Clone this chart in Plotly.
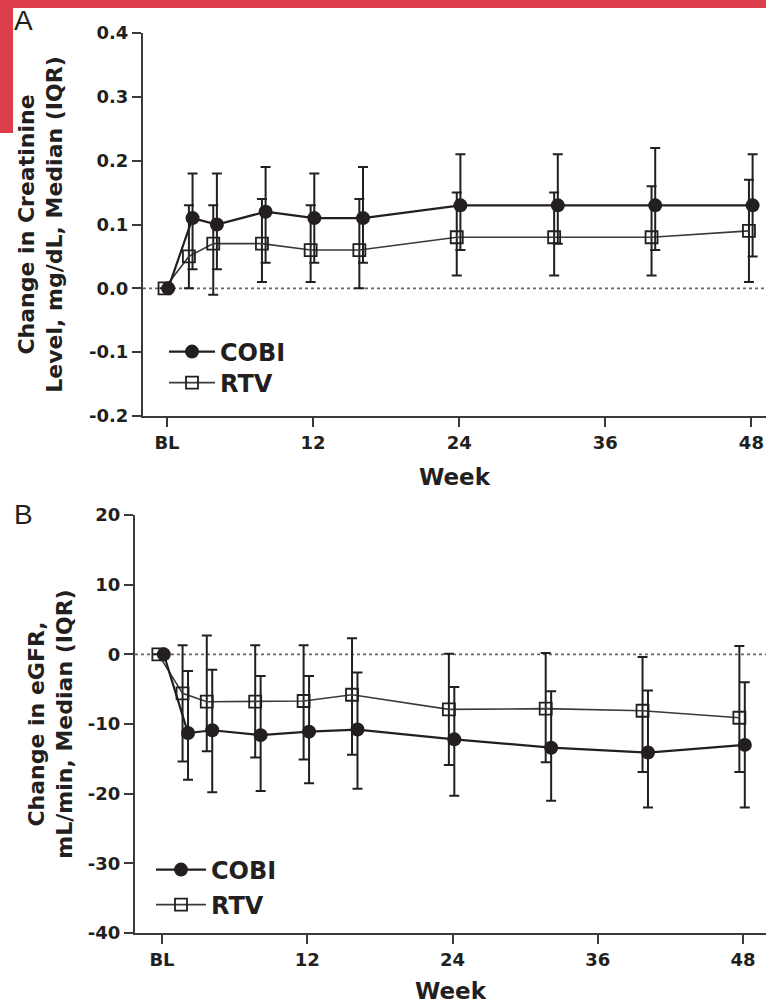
import plotly.graph_objects as go

# ---------------- data ----------------
weeks = [0, 2, 4, 8, 12, 16, 24, 32, 40, 48]
x_tickvals = [0, 12, 24, 36, 48]
x_ticktext = ["BL", "12", "24", "36", "48"]

# Panel A: change in creatinine (mg/dL), median and IQR
cobi_cr_med = [0, 0.11, 0.10, 0.12, 0.11, 0.11, 0.13, 0.13, 0.13, 0.13]
cobi_cr_q1 = [0, 0.03, 0.03, 0.04, 0.04, 0.04, 0.06, 0.07, 0.06, 0.05]
cobi_cr_q3 = [0, 0.18, 0.18, 0.19, 0.18, 0.19, 0.21, 0.21, 0.22, 0.21]
rtv_cr_med = [0, 0.05, 0.07, 0.07, 0.06, 0.06, 0.08, 0.08, 0.08, 0.09]
rtv_cr_q1 = [0, 0.00, -0.01, 0.01, 0.01, 0.00, 0.02, 0.02, 0.02, 0.01]
rtv_cr_q3 = [0, 0.13, 0.13, 0.14, 0.13, 0.14, 0.15, 0.15, 0.16, 0.17]
a_ytickvals = [0.4, 0.3, 0.2, 0.1, 0.0, -0.1, -0.2]
a_yticktext = ["0.4", "0.3", "0.2", "0.1", "0.0", "-0.1", "-0.2"]

# Panel B: change in eGFR (mL/min), median and IQR
cobi_eg_med = [0, -11.3, -10.9, -11.6, -11.1, -10.8, -12.2, -13.4, -14.1, -13.0]
cobi_eg_q1 = [0, -18.0, -19.8, -19.6, -18.5, -19.3, -20.3, -21.0, -22.0, -22.0]
cobi_eg_q3 = [0, -2.4, -2.2, -3.1, -3.1, -2.6, -4.7, -5.3, -5.2, -4.0]
rtv_eg_med = [0, -5.6, -6.8, -6.8, -6.7, -5.8, -7.9, -7.8, -8.1, -9.1]
rtv_eg_q1 = [0, -15.4, -13.9, -14.8, -15.1, -14.4, -15.9, -15.5, -16.9, -16.9]
rtv_eg_q3 = [0, 1.3, 2.7, 1.3, 1.3, 2.3, 0.1, 0.2, -0.4, 1.2]
b_ytickvals = [20, 10, 0, -10, -20, -30, -40]
b_yticktext = ["20", "10", "0", "-10", "-20", "-30", "-40"]

# ---------------- style ----------------
W, H = 766, 1005
INK = "#231f20"
AXC = "#3a3a3a"
RED = "#db3d4a"
FONT = "DejaVu Sans"

fig = go.Figure()


def add_series(xaxis, yaxis, legend, med, q1, q3, name, offset, is_cobi):
    xs = [w + offset for w in weeks]
    up = [b - a for a, b in zip(med, q3)]
    dn = [a - b for a, b in zip(med, q1)]
    if is_cobi:
        marker = dict(symbol="circle", size=14, color=INK, line=dict(width=0))
        line = dict(color=INK, width=2.2)
    else:
        marker = dict(symbol="square-open", size=12, color=INK, line=dict(width=1.8))
        line = dict(color=AXC, width=1.6)
    fig.add_trace(go.Scatter(
        x=xs, y=med, name=name, mode="lines+markers",
        xaxis=xaxis, yaxis=yaxis, legend=legend,
        marker=marker, line=line,
        error_y=dict(type="data", symmetric=False, array=up, arrayminus=dn,
                     color=INK, thickness=2, width=5),
    ))


# Panel A traces
add_series("x", "y", "legend3", rtv_cr_med, rtv_cr_q1, rtv_cr_q3, "RTV", -0.2, False)
add_series("x", "y", "legend", cobi_cr_med, cobi_cr_q1, cobi_cr_q3, "COBI", 0.1, True)
# Panel B traces
add_series("x2", "y2", "legend4", rtv_eg_med, rtv_eg_q1, rtv_eg_q3, "RTV", -0.3, False)
add_series("x2", "y2", "legend2", cobi_eg_med, cobi_eg_q1, cobi_eg_q3, "COBI", 0.15, True)


def fx(px):
    return px / W


def fy(py):
    return 1 - py / H


axis_common = dict(showgrid=False, zeroline=False, showline=True, linecolor=AXC,
                   linewidth=2, ticks="outside", ticklen=9, tickwidth=2, tickcolor=AXC,
                   automargin=False,
                   tickfont=dict(family=FONT, size=18, color=INK, weight="bold"))
title_font = dict(family=FONT, size=22, color=INK, weight="bold")
week_font = dict(family=FONT, size=23, color=INK, weight="bold")
leg_font = dict(family=FONT, size=24, color=INK, weight="bold")


def leg(xpx, ypx, iw):
    return dict(x=fx(xpx), y=fy(ypx), xanchor="left", yanchor="middle",
                bgcolor="rgba(0,0,0,0)", itemwidth=iw, font=leg_font)


fig.update_layout(
    width=W, height=H, autosize=False,
    margin=dict(l=0, r=0, t=0, b=0, pad=0, autoexpand=False),
    paper_bgcolor="white", plot_bgcolor="white",
    font=dict(family=FONT, color=INK),
    xaxis=dict(domain=[fx(143), 1], range=[-1.97, 49.2], anchor="y",
               tickvals=x_tickvals, ticktext=x_ticktext,
               title=dict(text="Week", font=week_font, standoff=17),
               **axis_common),
    yaxis=dict(domain=[fy(416), fy(33)], range=[-0.2, 0.4], anchor="x",
               tickvals=a_ytickvals, ticktext=a_yticktext,
               title=dict(text="Change in Creatinine<br>Level, mg/dL, Median (IQR)",
                          font=title_font, standoff=20),
               **axis_common),
    xaxis2=dict(domain=[fx(135), 1], range=[-2.23, 49.9], anchor="y2",
                tickvals=x_tickvals, ticktext=x_ticktext,
                title=dict(text="Week", font=week_font, standoff=14),
                **axis_common),
    yaxis2=dict(domain=[fy(933), fy(515)], range=[-40, 20], anchor="x2",
                tickvals=b_ytickvals, ticktext=b_yticktext,
                title=dict(text="Change in eGFR,<br>mL/min, Median (IQR)",
                           font=title_font, standoff=9),
                **axis_common),
    legend=leg(164, 352, 46),
    legend3=leg(164, 383, 46),
    legend2=leg(151, 870, 50),
    legend4=leg(151, 905, 50),
    showlegend=True,
)

# dotted zero reference lines
for xr, yr in (("x", "y"), ("x2", "y2")):
    fig.add_shape(type="line", xref=f"{xr} domain", yref=yr, x0=0, x1=1, y0=0, y1=0,
                  line=dict(color="#666666", width=1.6, dash="dot"), layer="below")

# red corner decoration
fig.add_shape(type="rect", xref="paper", yref="paper", x0=0, x1=1, y0=fy(8), y1=1,
              fillcolor=RED, line=dict(width=0), layer="above")
fig.add_shape(type="rect", xref="paper", yref="paper", x0=0, x1=fx(13), y0=fy(133), y1=1,
              fillcolor=RED, line=dict(width=0), layer="above")

# panel letters
fig.add_annotation(text="A", xref="paper", yref="paper", x=fx(24), y=fy(21),
                   xanchor="center", yanchor="middle", showarrow=False,
                   font=dict(family="Liberation Sans", size=28, color=INK))
fig.add_annotation(text="B", xref="paper", yref="paper", x=fx(24), y=fy(514),
                   xanchor="center", yanchor="middle", showarrow=False,
                   font=dict(family="Liberation Sans", size=28, color=INK))

# pin the figure to the page's top-left corner; page exactly figure-sized
pin_js = (
    "var de=document.documentElement,b=document.body;"
    "de.style.margin='0';de.style.padding='0';de.style.overflow='hidden';"
    "b.style.margin='0';b.style.padding='0';b.style.overflow='hidden';"
    "var d=document.getElementById('{plot_id}');"
    "d.style.position='fixed';d.style.left='0px';d.style.top='0px';"
)

fig.write_html("out.html", post_script=pin_js, config={"displayModeBar": False})
